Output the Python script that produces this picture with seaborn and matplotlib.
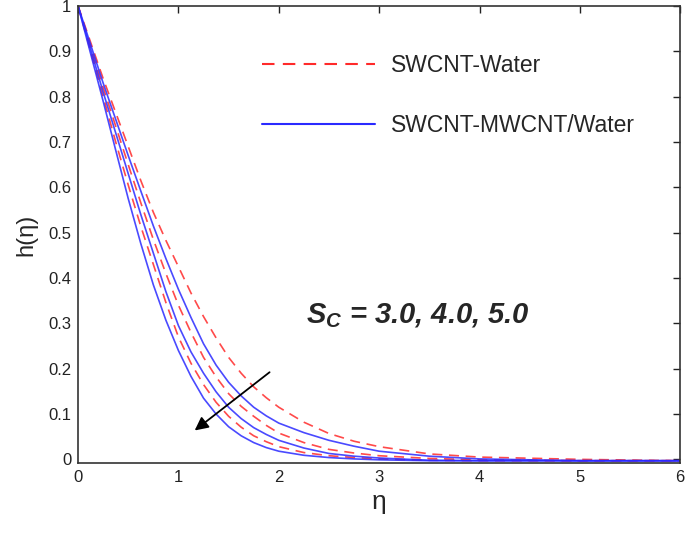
import pandas as pd
import matplotlib
matplotlib.use("Agg")
import matplotlib.pyplot as plt
import seaborn as sns

# ============================================
# Data
# ============================================

eta = [0, 0.125, 0.25, 0.375, 0.5, 0.625, 0.75, 0.875, 1.0, 1.125, 1.25, 1.375,
       1.5, 1.625, 1.75, 1.875, 2.0, 2.25, 2.5, 2.75, 3.0, 3.5, 4.0, 5.0, 6.0]

# SWCNT-Water (red dashed)
red_sc3 = [1.0, 0.92, 0.84, 0.765, 0.69, 0.615, 0.545, 0.483, 0.425, 0.367, 0.315, 0.268,
           0.225, 0.19, 0.16, 0.136, 0.115, 0.082, 0.057, 0.04, 0.028, 0.012, 0.005, 0.0, -0.003]
red_sc4 = [1.0, 0.91, 0.82, 0.735, 0.65, 0.566, 0.485, 0.41, 0.34, 0.28, 0.225, 0.182,
           0.145, 0.117, 0.095, 0.075, 0.058, 0.037, 0.022, 0.014, 0.008, 0.002, -0.001, -0.003, -0.003]
red_sc5 = [1.0, 0.90, 0.80, 0.70, 0.605, 0.514, 0.43, 0.346, 0.27, 0.212, 0.165, 0.126,
           0.095, 0.071, 0.052, 0.039, 0.028, 0.015, 0.008, 0.004, 0.001, -0.002, -0.003, -0.003, -0.003]

# SWCNT-MWCNT/Water (blue solid)
blue_sc3 = [1.0, 0.915, 0.83, 0.75, 0.67, 0.592, 0.515, 0.443, 0.375, 0.313, 0.255, 0.208,
            0.17, 0.14, 0.115, 0.096, 0.08, 0.059, 0.042, 0.029, 0.018, 0.007, 0.001, -0.003, -0.003]
blue_sc4 = [1.0, 0.905, 0.81, 0.72, 0.63, 0.54, 0.455, 0.37, 0.295, 0.237, 0.19, 0.149,
            0.115, 0.09, 0.07, 0.055, 0.042, 0.025, 0.013, 0.007, 0.003, -0.002, -0.003, -0.003, -0.003]
blue_sc5 = [1.0, 0.895, 0.79, 0.682, 0.575, 0.476, 0.385, 0.307, 0.24, 0.183, 0.135, 0.1,
            0.072, 0.052, 0.037, 0.026, 0.018, 0.009, 0.004, 0.001, -0.001, -0.003, -0.003, -0.003, -0.003]

fluids = ["SWCNT-Water", "SWCNT-MWCNT/Water"]

series = {
    ("SWCNT-Water", "3.0"): red_sc3,
    ("SWCNT-Water", "4.0"): red_sc4,
    ("SWCNT-Water", "5.0"): red_sc5,
    ("SWCNT-MWCNT/Water", "3.0"): blue_sc3,
    ("SWCNT-MWCNT/Water", "4.0"): blue_sc4,
    ("SWCNT-MWCNT/Water", "5.0"): blue_sc5,
}

rows = []
for (fluid, sc), values in series.items():
    for x, y in zip(eta, values):
        rows.append({"eta": x, "h": y, "fluid": fluid, "Sc": sc})
df = pd.DataFrame(rows)

# ============================================
# Plot
# ============================================

sns.set_style("white")
plt.rcParams["font.family"] = ["Liberation Sans", "DejaVu Sans"]
plt.rcParams["mathtext.fontset"] = "custom"
plt.rcParams["mathtext.it"] = "Liberation Sans:italic:bold"
plt.rcParams["mathtext.rm"] = "Liberation Sans"

fig = plt.figure(figsize=(6.85, 5.35), dpi=100)
ax = fig.add_axes([0.114, 0.1346, 0.879, 0.854])

sns.lineplot(
    data=df, x="eta", y="h",
    hue="fluid", style="fluid", units="Sc",
    estimator=None, sort=False,
    hue_order=fluids, style_order=fluids,
    palette={"SWCNT-Water": "#ff2a2a", "SWCNT-MWCNT/Water": "#2a2aff"},
    dashes={"SWCNT-Water": (6, 4), "SWCNT-MWCNT/Water": ""},
    linewidth=1.2, alpha=0.85,
    ax=ax,
)

ax.set_xlim(0, 6)
ax.set_ylim(-0.008, 1.0)
ax.set_xticks([0, 1, 2, 3, 4, 5, 6])
ax.set_yticks([0, 0.1, 0.2, 0.3, 0.4, 0.5, 0.6, 0.7, 0.8, 0.9, 1])
ax.set_yticklabels(["0", "0.1", "0.2", "0.3", "0.4", "0.5", "0.6", "0.7", "0.8", "0.9", "1"])
ax.tick_params(direction="in", length=5, width=1, top=True, right=True,
               labelsize=12, colors="#222222", pad=5)
for spine in ax.spines.values():
    spine.set_color("#333333")
    spine.set_linewidth(1.2)

ax.set_xlabel("η", fontsize=19, labelpad=4)
ax.set_ylabel("h(η)", fontsize=17, labelpad=8)

# Legend
handles, labels = ax.get_legend_handles_labels()
for hnd in handles:
    hnd.set_alpha(1.0)
    hnd.set_linewidth(1.5)
ax.legend(handles, labels, loc="upper left", bbox_to_anchor=(0.306, 0.895),
          frameon=False, fontsize=16.5, handlelength=4.9, handletextpad=0.7,
          labelspacing=1.6, borderpad=0, borderaxespad=0)

# Annotation
ax.text(2.27, 0.318, r"$S_C$ = 3.0, 4.0, 5.0", fontsize=21,
        fontweight="bold", fontstyle="italic", va="center", ha="left")
ax.annotate("", xy=(1.14, 0.06), xytext=(1.93, 0.196),
            arrowprops=dict(arrowstyle="-|>", color="black", lw=1.3,
                            mutation_scale=20))

plt.savefig("out.png", dpi=100)
